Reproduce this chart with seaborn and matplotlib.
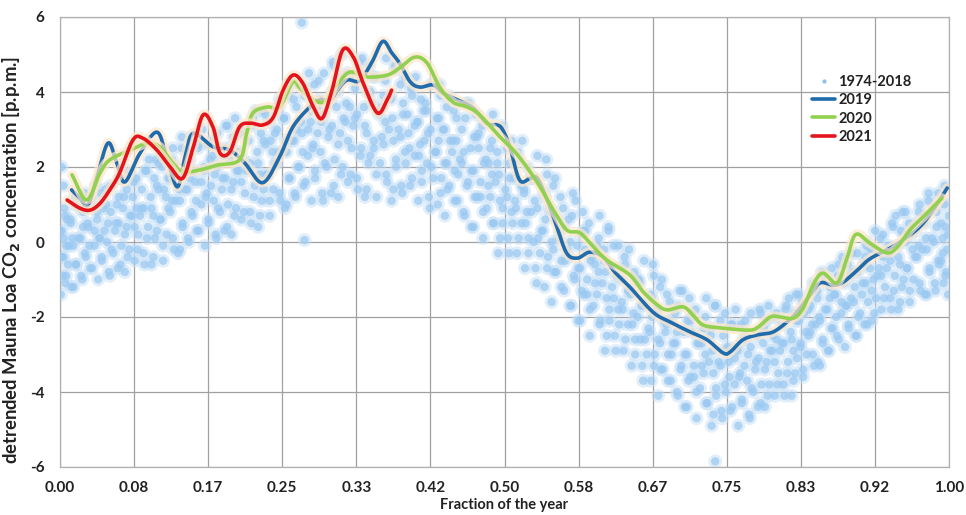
import matplotlib
matplotlib.use("Agg")
import matplotlib.pyplot as plt
import matplotlib.patheffects as pe
from matplotlib.lines import Line2D
import seaborn as sns
import pandas as pd
import numpy as np

# ---------------- data ----------------
xtick_vals = [0, 1/12, 2/12, 3/12, 4/12, 5/12, 6/12, 7/12, 8/12, 9/12, 10/12, 11/12, 1]
xtick_labels = ["0.00", "0.08", "0.17", "0.25", "0.33", "0.42", "0.50",
                "0.58", "0.67", "0.75", "0.83", "0.92", "1.00"]
ytick_vals = [-6, -4, -2, 0, 2, 4, 6]

# 1974-2018 cloud, group A
hist_frac_a = [
    0.001, 0.006, 0.003, 0.009, 0.002, 0.007, 0.004, 0.000, 0.008, 0.005, 0.002, 0.004,
    0.013, 0.024, 0.018, 0.028, 0.015, 0.021, 0.026, 0.012, 0.023, 0.017,
    0.043, 0.034, 0.047, 0.039, 0.045, 0.032, 0.042, 0.049, 0.036, 0.040,
    0.056, 0.068, 0.060, 0.053, 0.062, 0.066, 0.057, 0.064, 0.051, 0.067,
    0.073, 0.084, 0.078, 0.088, 0.075, 0.081, 0.086, 0.072, 0.083, 0.077,
    0.103, 0.094, 0.107, 0.099, 0.105, 0.092, 0.102, 0.109, 0.096, 0.100,
    0.116, 0.128, 0.120, 0.113, 0.122, 0.126, 0.117, 0.124, 0.111, 0.127,
    0.133, 0.144, 0.138, 0.148, 0.135, 0.141, 0.146, 0.132, 0.143, 0.137,
    0.163, 0.154, 0.167, 0.159, 0.165, 0.152, 0.162, 0.169, 0.156, 0.160,
    0.176, 0.188, 0.180, 0.173, 0.182, 0.186, 0.177, 0.184, 0.171, 0.187,
    0.193, 0.204, 0.198, 0.208, 0.195, 0.201, 0.206, 0.192, 0.203, 0.197,
    0.223, 0.214, 0.227, 0.219, 0.225, 0.212, 0.222, 0.229, 0.216, 0.220,
    0.236, 0.248, 0.240, 0.233, 0.242, 0.246, 0.237, 0.244, 0.231, 0.247,
    0.253, 0.264, 0.258, 0.268, 0.255, 0.261, 0.266, 0.252, 0.263, 0.257,
    0.283, 0.274, 0.287, 0.279, 0.285, 0.272, 0.282, 0.289, 0.276, 0.280, 0.272, 0.275,
    0.296, 0.308, 0.300, 0.293, 0.302, 0.306, 0.297, 0.304, 0.291, 0.307,
    0.313, 0.324, 0.318, 0.328, 0.315, 0.321, 0.326, 0.312, 0.323, 0.317,
    0.343, 0.334, 0.347, 0.339, 0.345, 0.332, 0.342, 0.349, 0.336, 0.340,
    0.356, 0.368, 0.360, 0.353, 0.362, 0.366, 0.357, 0.364, 0.351, 0.367,
    0.373, 0.384, 0.378, 0.388, 0.375, 0.381, 0.386, 0.372, 0.383, 0.377,
    0.403, 0.394, 0.407, 0.399, 0.405, 0.392, 0.402, 0.409, 0.396, 0.400,
    0.416, 0.428, 0.420, 0.413, 0.422, 0.426, 0.417, 0.424, 0.411, 0.427,
    0.433, 0.444, 0.438, 0.448, 0.435, 0.441, 0.446, 0.432, 0.443, 0.437,
    0.463, 0.454, 0.467, 0.459, 0.465, 0.452, 0.462, 0.469, 0.456, 0.460,
    0.476, 0.488, 0.480, 0.473, 0.482, 0.486, 0.477, 0.484, 0.471, 0.487,
    0.493, 0.504, 0.498, 0.508, 0.495, 0.501, 0.506, 0.492, 0.503, 0.497,
    0.523, 0.514, 0.527, 0.519, 0.525, 0.512, 0.522, 0.529, 0.516, 0.520,
    0.536, 0.548, 0.540, 0.533, 0.542, 0.546, 0.537, 0.544, 0.531, 0.547,
    0.553, 0.564, 0.558, 0.568, 0.555, 0.561, 0.566, 0.552, 0.563, 0.557,
    0.583, 0.574, 0.587, 0.579, 0.585, 0.572, 0.582, 0.589, 0.576, 0.580,
    0.596, 0.608, 0.600, 0.593, 0.602, 0.606, 0.597, 0.604, 0.591, 0.607,
    0.613, 0.624, 0.618, 0.628, 0.615, 0.621, 0.626, 0.612, 0.623, 0.617,
    0.643, 0.634, 0.647, 0.639, 0.645, 0.632, 0.642, 0.649, 0.636, 0.640,
    0.656, 0.668, 0.660, 0.653, 0.662, 0.666, 0.657, 0.664, 0.651, 0.667,
    0.673, 0.684, 0.678, 0.688, 0.675, 0.681, 0.686, 0.672, 0.683, 0.677,
    0.703, 0.694, 0.707, 0.699, 0.705, 0.692, 0.702, 0.709, 0.696, 0.700,
    0.716, 0.728, 0.720, 0.713, 0.722, 0.726, 0.717, 0.724, 0.711, 0.727,
    0.733, 0.744, 0.738, 0.748, 0.735, 0.741, 0.746, 0.732, 0.743, 0.737, 0.737,
    0.763, 0.754, 0.767, 0.759, 0.765, 0.752, 0.762, 0.769, 0.756, 0.760,
    0.776, 0.788, 0.780, 0.773, 0.782, 0.786, 0.777, 0.784, 0.771, 0.787,
    0.793, 0.804, 0.798, 0.808, 0.795, 0.801, 0.806, 0.792, 0.803, 0.797,
    0.823, 0.814, 0.827, 0.819, 0.825, 0.812, 0.822, 0.829, 0.816, 0.820,
    0.836, 0.848, 0.840, 0.833, 0.842, 0.846, 0.837, 0.844, 0.831, 0.847,
    0.853, 0.864, 0.858, 0.868, 0.855, 0.861, 0.866, 0.852, 0.863, 0.857,
    0.883, 0.874, 0.887, 0.879, 0.885, 0.872, 0.882, 0.889, 0.876, 0.880,
    0.896, 0.908, 0.900, 0.893, 0.902, 0.906, 0.897, 0.904, 0.891, 0.907,
    0.913, 0.924, 0.918, 0.928, 0.915, 0.921, 0.926, 0.912, 0.923, 0.917,
    0.943, 0.934, 0.947, 0.939, 0.945, 0.932, 0.942, 0.949, 0.936, 0.940,
    0.956, 0.968, 0.960, 0.953, 0.962, 0.966, 0.957, 0.964, 0.951, 0.967,
    0.973, 0.984, 0.978, 0.988, 0.975, 0.981, 0.986, 0.972, 0.983, 0.977,
    0.999, 0.994, 0.997, 0.991, 0.998, 0.993, 0.996, 1.000, 0.992, 0.995,
]
hist_ppm_a = [
    -1.4, -1.1, -0.9, -0.6, -0.4, -0.1, 0.1, 0.3, 0.6, 0.9, 2.0, 1.5,
    -1.2, -0.9, -0.6, -0.3, -0.1, 0.1, 0.4, 0.6, 0.9, 1.2,
    -1.0, -0.7, -0.4, -0.1, 0.1, 0.4, 0.6, 0.9, 1.2, 1.5,
    -0.9, -0.6, -0.3, 0.0, 0.3, 0.5, 0.8, 1.0, 1.4, 1.7,
    -0.8, -0.5, -0.2, 0.2, 0.4, 0.7, 0.9, 1.2, 1.6, 1.9,
    -0.6, -0.3, 0.1, 0.4, 0.7, 0.9, 1.2, 1.5, 1.9, 2.2,
    -0.5, -0.2, 0.2, 0.6, 0.9, 1.1, 1.4, 1.7, 2.1, 2.5,
    -0.3, 0.1, 0.4, 0.8, 1.1, 1.4, 1.7, 2.0, 2.4, 2.8,
    -0.1, 0.3, 0.6, 1.0, 1.3, 1.6, 1.9, 2.2, 2.6, 3.0,
    0.1, 0.4, 0.8, 1.1, 1.4, 1.7, 2.0, 2.3, 2.7, 3.1,
    0.2, 0.6, 0.9, 1.3, 1.6, 1.9, 2.2, 2.5, 2.9, 3.3,
    0.4, 0.8, 1.1, 1.5, 1.8, 2.0, 2.4, 2.7, 3.1, 3.5,
    0.7, 1.1, 1.4, 1.8, 2.1, 2.4, 2.7, 3.0, 3.4, 3.8,
    0.9, 1.3, 1.7, 2.0, 2.4, 2.7, 3.0, 3.3, 3.8, 4.2,
    1.1, 1.5, 1.9, 2.3, 2.6, 2.9, 3.2, 3.6, 4.1, 4.5, 5.85, 0.05,
    1.1, 1.5, 2.0, 2.4, 2.8, 3.1, 3.4, 3.8, 4.3, 4.8,
    1.2, 1.6, 2.0, 2.5, 2.9, 3.2, 3.6, 4.0, 4.5, 5.0,
    1.2, 1.7, 2.1, 2.5, 2.9, 3.3, 3.6, 4.0, 4.5, 4.9,
    1.2, 1.6, 2.1, 2.5, 2.8, 3.2, 3.5, 3.9, 4.4, 4.9,
    1.1, 1.5, 2.0, 2.4, 2.7, 3.0, 3.4, 3.8, 4.2, 4.7,
    1.1, 1.5, 1.9, 2.3, 2.6, 2.9, 3.2, 3.5, 3.9, 4.4,
    0.9, 1.3, 1.7, 2.1, 2.4, 2.7, 3.0, 3.3, 3.7, 4.2,
    0.7, 1.1, 1.5, 1.8, 2.1, 2.4, 2.7, 3.0, 3.5, 3.9,
    0.4, 0.8, 1.2, 1.6, 1.9, 2.1, 2.5, 2.8, 3.3, 3.7,
    0.1, 0.5, 0.9, 1.2, 1.5, 1.8, 2.1, 2.5, 2.9, 3.4,
    -0.3, 0.1, 0.5, 0.8, 1.1, 1.4, 1.7, 2.1, 2.5, 3.0,
    -0.7, -0.3, 0.1, 0.5, 0.8, 1.1, 1.4, 1.7, 2.2, 2.7,
    -1.1, -0.7, -0.3, 0.0, 0.3, 0.6, 0.9, 1.3, 1.7, 2.2,
    -1.6, -1.2, -0.8, -0.5, -0.2, 0.1, 0.4, 0.8, 1.2, 1.7,
    -2.1, -1.7, -1.3, -1.0, -0.7, -0.4, -0.1, 0.3, 0.7, 1.1,
    -2.5, -2.1, -1.7, -1.4, -1.1, -0.8, -0.5, -0.1, 0.3, 0.7,
    -2.9, -2.5, -2.1, -1.8, -1.5, -1.2, -0.9, -0.5, -0.1, 0.3,
    -3.3, -2.9, -2.6, -2.2, -1.9, -1.6, -1.3, -1.0, -0.6, -0.2,
    -3.7, -3.3, -3.0, -2.6, -2.3, -2.0, -1.7, -1.4, -1.0, -0.6,
    -4.1, -3.7, -3.4, -3.0, -2.7, -2.4, -2.1, -1.8, -1.4, -1.0,
    -4.4, -4.0, -3.7, -3.3, -3.0, -2.7, -2.4, -2.1, -1.7, -1.3,
    -4.7, -4.3, -3.9, -3.6, -3.3, -3.0, -2.7, -2.3, -1.9, -1.5,
    -4.9, -4.5, -4.1, -3.8, -3.5, -3.2, -2.9, -2.5, -2.1, -1.7, -5.85,
    -4.9, -4.5, -4.2, -3.8, -3.5, -3.2, -2.9, -2.6, -2.2, -1.8,
    -4.7, -4.3, -4.0, -3.7, -3.4, -3.1, -2.8, -2.5, -2.1, -1.8,
    -4.4, -4.1, -3.8, -3.5, -3.2, -2.9, -2.6, -2.3, -2.0, -1.7,
    -4.1, -3.8, -3.5, -3.2, -2.9, -2.7, -2.4, -2.1, -1.8, -1.5,
    -3.6, -3.3, -3.0, -2.7, -2.5, -2.2, -1.9, -1.7, -1.4, -1.1,
    -3.2, -2.9, -2.6, -2.3, -2.1, -1.8, -1.5, -1.3, -1.0, -0.8,
    -2.8, -2.5, -2.2, -1.9, -1.7, -1.4, -1.1, -0.9, -0.6, -0.4,
    -2.5, -2.2, -1.9, -1.6, -1.4, -1.1, -0.8, -0.6, -0.3, -0.1,
    -2.1, -1.8, -1.5, -1.2, -1.0, -0.7, -0.4, -0.2, 0.1, 0.3,
    -1.8, -1.5, -1.2, -0.9, -0.6, -0.3, -0.1, 0.2, 0.5, 0.7,
    -1.6, -1.3, -1.0, -0.7, -0.4, -0.1, 0.2, 0.5, 0.8, 1.0,
    -1.4, -1.1, -0.8, -0.5, -0.2, 0.1, 0.4, 0.7, 1.0, 1.3,
    -1.4, -1.1, -0.8, -0.5, -0.2, 0.1, 0.4, 0.7, 1.1, 1.5,
]

# 1974-2018 cloud, group B (in-between columns)
hist_frac_b = [
    0.015, 0.007, 0.018, 0.004, 0.010, 0.014, 0.002, 0.012, 0.006, 0.017,
    0.025, 0.036, 0.029, 0.033, 0.023, 0.039, 0.031, 0.026, 0.035, 0.028,
    0.055, 0.047, 0.058, 0.044, 0.050, 0.054, 0.042, 0.052, 0.046, 0.057,
    0.065, 0.076, 0.069, 0.073, 0.063, 0.079, 0.071, 0.066, 0.075, 0.068,
    0.095, 0.087, 0.098, 0.084, 0.090, 0.094, 0.082, 0.092, 0.086, 0.097,
    0.105, 0.116, 0.109, 0.113, 0.103, 0.119, 0.111, 0.106, 0.115, 0.108,
    0.135, 0.127, 0.138, 0.124, 0.130, 0.134, 0.122, 0.132, 0.126, 0.137,
    0.145, 0.156, 0.149, 0.153, 0.143, 0.159, 0.151, 0.146, 0.155, 0.148,
    0.175, 0.167, 0.178, 0.164, 0.170, 0.174, 0.162, 0.172, 0.166, 0.177,
    0.185, 0.196, 0.189, 0.193, 0.183, 0.199, 0.191, 0.186, 0.195, 0.188,
    0.215, 0.207, 0.218, 0.204, 0.210, 0.214, 0.202, 0.212, 0.206, 0.217,
    0.225, 0.236, 0.229, 0.233, 0.223, 0.239, 0.231, 0.226, 0.235, 0.228,
    0.255, 0.247, 0.258, 0.244, 0.250, 0.254, 0.242, 0.252, 0.246, 0.257,
    0.265, 0.276, 0.269, 0.273, 0.263, 0.279, 0.271, 0.266, 0.275, 0.268,
    0.295, 0.287, 0.298, 0.284, 0.290, 0.294, 0.282, 0.292, 0.286, 0.297,
    0.305, 0.316, 0.309, 0.313, 0.303, 0.319, 0.311, 0.306, 0.315, 0.308,
    0.335, 0.327, 0.338, 0.324, 0.330, 0.334, 0.322, 0.332, 0.326, 0.337,
    0.345, 0.356, 0.349, 0.353, 0.343, 0.359, 0.351, 0.346, 0.355, 0.348,
    0.375, 0.367, 0.378, 0.364, 0.370, 0.374, 0.362, 0.372, 0.366, 0.377,
    0.385, 0.396, 0.389, 0.393, 0.383, 0.399, 0.391, 0.386, 0.395, 0.388,
    0.415, 0.407, 0.418, 0.404, 0.410, 0.414, 0.402, 0.412, 0.406, 0.417,
    0.425, 0.436, 0.429, 0.433, 0.423, 0.439, 0.431, 0.426, 0.435, 0.428,
    0.455, 0.447, 0.458, 0.444, 0.450, 0.454, 0.442, 0.452, 0.446, 0.457,
    0.465, 0.476, 0.469, 0.473, 0.463, 0.479, 0.471, 0.466, 0.475, 0.468,
    0.495, 0.487, 0.498, 0.484, 0.490, 0.494, 0.482, 0.492, 0.486, 0.497,
    0.505, 0.516, 0.509, 0.513, 0.503, 0.519, 0.511, 0.506, 0.515, 0.508,
    0.535, 0.527, 0.538, 0.524, 0.530, 0.534, 0.522, 0.532, 0.526, 0.537,
    0.545, 0.556, 0.549, 0.553, 0.543, 0.559, 0.551, 0.546, 0.555, 0.548,
    0.575, 0.567, 0.578, 0.564, 0.570, 0.574, 0.562, 0.572, 0.566, 0.577,
    0.585, 0.596, 0.589, 0.593, 0.583, 0.599, 0.591, 0.586, 0.595, 0.588,
    0.615, 0.607, 0.618, 0.604, 0.610, 0.614, 0.602, 0.612, 0.606, 0.617,
    0.625, 0.636, 0.629, 0.633, 0.623, 0.639, 0.631, 0.626, 0.635, 0.628,
    0.655, 0.647, 0.658, 0.644, 0.650, 0.654, 0.642, 0.652, 0.646, 0.657,
    0.665, 0.676, 0.669, 0.673, 0.663, 0.679, 0.671, 0.666, 0.675, 0.668,
    0.695, 0.687, 0.698, 0.684, 0.690, 0.694, 0.682, 0.692, 0.686, 0.697,
    0.705, 0.716, 0.709, 0.713, 0.703, 0.719, 0.711, 0.706, 0.715, 0.708,
    0.735, 0.727, 0.738, 0.724, 0.730, 0.734, 0.722, 0.732, 0.726, 0.737,
    0.745, 0.756, 0.749, 0.753, 0.743, 0.759, 0.751, 0.746, 0.755, 0.748,
    0.775, 0.767, 0.778, 0.764, 0.770, 0.774, 0.762, 0.772, 0.766, 0.777,
    0.785, 0.796, 0.789, 0.793, 0.783, 0.799, 0.791, 0.786, 0.795, 0.788,
    0.815, 0.807, 0.818, 0.804, 0.810, 0.814, 0.802, 0.812, 0.806, 0.817,
    0.825, 0.836, 0.829, 0.833, 0.823, 0.839, 0.831, 0.826, 0.835, 0.828,
    0.855, 0.847, 0.858, 0.844, 0.850, 0.854, 0.842, 0.852, 0.846, 0.857,
    0.865, 0.876, 0.869, 0.873, 0.863, 0.879, 0.871, 0.866, 0.875, 0.868,
    0.895, 0.887, 0.898, 0.884, 0.890, 0.894, 0.882, 0.892, 0.886, 0.897,
    0.905, 0.916, 0.909, 0.913, 0.903, 0.919, 0.911, 0.906, 0.915, 0.908,
    0.935, 0.927, 0.938, 0.924, 0.930, 0.934, 0.922, 0.932, 0.926, 0.937,
    0.945, 0.956, 0.949, 0.953, 0.943, 0.959, 0.951, 0.946, 0.955, 0.948,
    0.975, 0.967, 0.978, 0.964, 0.970, 0.974, 0.962, 0.972, 0.966, 0.977,
    0.985, 0.996, 0.989, 0.993, 0.983, 0.999, 0.991, 0.986, 0.995, 0.988,
]
hist_ppm_b = [
    -1.2, -0.9, -0.6, -0.4, -0.1, 0.1, 0.3, 0.5, 0.7, 1.0,
    -1.0, -0.7, -0.4, -0.1, 0.1, 0.3, 0.5, 0.8, 1.0, 1.3,
    -0.8, -0.5, -0.2, 0.1, 0.3, 0.5, 0.8, 1.0, 1.3, 1.5,
    -0.7, -0.4, -0.1, 0.2, 0.5, 0.7, 0.9, 1.2, 1.4, 1.7,
    -0.6, -0.2, 0.1, 0.4, 0.7, 0.9, 1.2, 1.4, 1.7, 1.9,
    -0.4, -0.1, 0.3, 0.6, 0.9, 1.2, 1.4, 1.7, 2.0, 2.2,
    -0.2, 0.1, 0.5, 0.8, 1.1, 1.4, 1.7, 1.9, 2.2, 2.5,
    0.0, 0.3, 0.7, 1.1, 1.4, 1.6, 1.9, 2.2, 2.5, 2.8,
    0.2, 0.5, 0.9, 1.2, 1.5, 1.8, 2.0, 2.3, 2.6, 2.9,
    0.3, 0.7, 1.0, 1.4, 1.7, 1.9, 2.2, 2.5, 2.8, 3.1,
    0.5, 0.8, 1.2, 1.6, 1.9, 2.1, 2.4, 2.7, 3.0, 3.3,
    0.7, 1.1, 1.4, 1.8, 2.1, 2.4, 2.6, 2.9, 3.2, 3.5,
    1.0, 1.3, 1.7, 2.1, 2.4, 2.7, 2.9, 3.3, 3.6, 3.9,
    1.2, 1.6, 2.0, 2.4, 2.7, 3.0, 3.2, 3.6, 3.9, 4.2,
    1.3, 1.7, 2.1, 2.5, 2.9, 3.2, 3.5, 3.8, 4.2, 4.5,
    1.3, 1.8, 2.2, 2.6, 3.0, 3.3, 3.6, 4.0, 4.4, 4.7,
    1.4, 1.8, 2.3, 2.7, 3.1, 3.4, 3.7, 4.1, 4.4, 4.8,
    1.4, 1.8, 2.3, 2.7, 3.1, 3.4, 3.7, 4.0, 4.4, 4.7,
    1.4, 1.8, 2.2, 2.6, 3.0, 3.3, 3.6, 3.9, 4.3, 4.6,
    1.3, 1.7, 2.1, 2.5, 2.8, 3.1, 3.4, 3.7, 4.1, 4.4,
    1.2, 1.6, 2.0, 2.3, 2.7, 2.9, 3.2, 3.5, 3.8, 4.2,
    1.0, 1.4, 1.7, 2.1, 2.4, 2.7, 3.0, 3.3, 3.6, 3.9,
    0.7, 1.1, 1.5, 1.9, 2.2, 2.4, 2.7, 3.0, 3.3, 3.7,
    0.4, 0.8, 1.2, 1.6, 1.9, 2.2, 2.5, 2.8, 3.1, 3.4,
    0.1, 0.5, 0.9, 1.2, 1.6, 1.8, 2.1, 2.4, 2.7, 3.1,
    -0.3, 0.1, 0.5, 0.9, 1.2, 1.5, 1.7, 2.1, 2.4, 2.7,
    -0.7, -0.3, 0.1, 0.5, 0.8, 1.1, 1.3, 1.7, 2.0, 2.3,
    -1.2, -0.8, -0.4, 0.0, 0.3, 0.6, 0.9, 1.2, 1.5, 1.8,
    -1.7, -1.3, -0.9, -0.5, -0.2, 0.0, 0.3, 0.6, 0.9, 1.3,
    -2.1, -1.8, -1.4, -1.0, -0.7, -0.4, -0.2, 0.2, 0.5, 0.8,
    -2.5, -2.2, -1.8, -1.4, -1.1, -0.8, -0.6, -0.2, 0.1, 0.4,
    -2.9, -2.6, -2.2, -1.8, -1.5, -1.3, -1.0, -0.7, -0.4, -0.1,
    -3.3, -3.0, -2.6, -2.2, -2.0, -1.7, -1.4, -1.1, -0.8, -0.5,
    -3.7, -3.4, -3.0, -2.6, -2.4, -2.1, -1.8, -1.5, -1.2, -0.9,
    -4.1, -3.7, -3.4, -3.0, -2.7, -2.4, -2.2, -1.9, -1.6, -1.3,
    -4.4, -4.0, -3.6, -3.3, -3.0, -2.7, -2.4, -2.1, -1.8, -1.5,
    -4.6, -4.3, -3.9, -3.5, -3.2, -2.9, -2.7, -2.3, -2.0, -1.7,
    -4.7, -4.4, -4.0, -3.6, -3.3, -3.1, -2.8, -2.5, -2.2, -1.9,
    -4.6, -4.3, -3.9, -3.6, -3.3, -3.0, -2.8, -2.5, -2.2, -1.9,
    -4.4, -4.1, -3.8, -3.4, -3.2, -2.9, -2.7, -2.4, -2.1, -1.9,
    -4.1, -3.8, -3.5, -3.2, -2.9, -2.7, -2.5, -2.2, -1.9, -1.7,
    -3.7, -3.4, -3.1, -2.8, -2.6, -2.4, -2.1, -1.9, -1.6, -1.4,
    -3.3, -3.0, -2.7, -2.4, -2.2, -2.0, -1.8, -1.5, -1.3, -1.0,
    -2.9, -2.6, -2.3, -2.0, -1.8, -1.6, -1.4, -1.2, -0.9, -0.7,
    -2.5, -2.3, -2.0, -1.7, -1.5, -1.2, -1.0, -0.8, -0.6, -0.3,
    -2.2, -1.9, -1.6, -1.3, -1.1, -0.9, -0.7, -0.4, -0.2, 0.0,
    -1.8, -1.5, -1.3, -0.9, -0.7, -0.5, -0.3, -0.1, 0.2, 0.4,
    -1.6, -1.3, -1.0, -0.7, -0.4, -0.2, 0.0, 0.3, 0.5, 0.8,
    -1.4, -1.1, -0.7, -0.4, -0.2, 0.1, 0.3, 0.5, 0.8, 1.1,
    -1.3, -0.9, -0.6, -0.3, 0.0, 0.2, 0.5, 0.8, 1.0, 1.3,
]

frac_2019 = [0.013, 0.0225, 0.0315, 0.0416, 0.054, 0.064, 0.073, 0.090, 0.109, 0.120,
             0.132, 0.141, 0.150, 0.172, 0.191, 0.208, 0.228, 0.247, 0.262, 0.281,
             0.292, 0.304, 0.312, 0.323, 0.337, 0.351, 0.363, 0.373, 0.382, 0.394,
             0.405, 0.420, 0.431, 0.447, 0.465, 0.480, 0.492, 0.498, 0.506, 0.517,
             0.529, 0.537, 0.548, 0.559, 0.570, 0.582, 0.596, 0.611, 0.624, 0.641,
             0.667, 0.686, 0.709, 0.728, 0.746, 0.754, 0.768, 0.784, 0.802, 0.818,
             0.829, 0.844, 0.855, 0.870, 0.881, 0.897, 0.911, 0.934, 0.948, 0.967,
             0.982, 0.998]
ppm_2019 = [1.39, 1.17, 0.99, 1.73, 2.64, 2.10, 1.60, 2.37, 2.93, 2.27,
            1.47, 2.30, 2.90, 2.54, 2.45, 2.10, 1.58, 2.27, 3.07, 3.60,
            3.79, 3.79, 4.05, 4.32, 4.30, 4.80, 5.35, 5.05, 4.77, 4.27,
            4.13, 4.19, 3.97, 3.79, 3.57, 3.17, 3.12, 2.99, 2.54, 1.65,
            1.70, 1.70, 1.12, 0.40, -0.30, -0.43, -0.27, -0.40, -0.80, -1.20,
            -1.87, -2.13, -2.40, -2.61, -2.96, -2.93, -2.61, -2.48, -2.40, -2.13,
            -1.87, -1.41, -1.09, -1.15, -1.07, -0.75, -0.45, -0.16, 0.05, 0.40,
            0.85, 1.44]

frac_2020 = [0.0135, 0.030, 0.045, 0.056, 0.079, 0.098, 0.112, 0.127, 0.138, 0.157,
             0.177, 0.202, 0.210, 0.217, 0.233, 0.247, 0.262, 0.270, 0.285, 0.298,
             0.312, 0.326, 0.345, 0.368, 0.382, 0.399, 0.413, 0.427, 0.442, 0.458,
             0.472, 0.495, 0.510, 0.525, 0.540, 0.555, 0.570, 0.585, 0.600, 0.615,
             0.641, 0.656, 0.672, 0.683, 0.701, 0.712, 0.723, 0.742, 0.773, 0.784,
             0.799, 0.810, 0.825, 0.836, 0.847, 0.858, 0.874, 0.885, 0.895, 0.911,
             0.930, 0.942, 0.956, 0.971, 0.992]
ppm_2020 = [1.79, 1.12, 1.84, 2.19, 2.45, 2.63, 2.54, 2.10, 1.87, 1.92,
            2.05, 2.19, 2.90, 3.44, 3.60, 3.60, 4.27, 4.10, 3.79, 3.75,
            4.20, 4.53, 4.40, 4.45, 4.64, 4.93, 4.77, 4.13, 3.73, 3.60,
            3.39, 2.80, 2.45, 2.00, 1.47, 0.85, 0.32, 0.24, -0.13, -0.48,
            -0.88, -1.33, -1.68, -1.81, -1.73, -1.95, -2.21, -2.29, -2.35, -2.29,
            -2.00, -2.00, -2.03, -1.76, -1.15, -0.83, -1.09, -0.45, 0.20, -0.03,
            -0.29, -0.13, 0.32, 0.67, 1.17]

frac_2021 = [0.008, 0.0225, 0.034, 0.045, 0.056, 0.067, 0.082, 0.093, 0.109, 0.124,
             0.138, 0.150, 0.161, 0.172, 0.180, 0.191, 0.202, 0.214, 0.228, 0.240,
             0.251, 0.262, 0.273, 0.285, 0.295, 0.306, 0.318, 0.330, 0.341, 0.357,
             0.368, 0.373]
ppm_2021 = [1.12, 0.90, 0.85, 1.03, 1.39, 1.84, 2.72, 2.77, 2.45, 2.00,
            1.70, 2.54, 3.39, 3.07, 2.37, 2.40, 3.07, 3.17, 3.12, 3.33,
            4.05, 4.45, 4.24, 3.60, 3.30, 4.05, 5.12, 4.93, 4.24, 3.44,
            3.79, 4.05]

series_names = ["2019", "2020", "2021"]
series_colors = ["#1f6bab", "#92d050", "#e3141b"]


def smooth_curve(xs, ys, steps=10):
    """Catmull-Rom rendering of a line through the given points (like a smoothed Excel line)."""
    x = np.asarray(xs, float)
    y = np.asarray(ys, float)
    px = np.concatenate([[2 * x[0] - x[1]], x, [2 * x[-1] - x[-2]]])
    py = np.concatenate([[2 * y[0] - y[1]], y, [2 * y[-1] - y[-2]]])
    out_x, out_y = [], []
    t = np.linspace(0, 1, steps, endpoint=False)
    for i in range(1, len(px) - 2):
        for arr, o in ((px, out_x), (py, out_y)):
            p0, p1, p2, p3 = arr[i - 1], arr[i], arr[i + 1], arr[i + 2]
            o.extend(0.5 * (2 * p1 + (-p0 + p2) * t + (2 * p0 - 5 * p1 + 4 * p2 - p3) * t ** 2
                            + (-p0 + 3 * p1 - 3 * p2 + p3) * t ** 3))
    out_x.append(x[-1])
    out_y.append(y[-1])
    return out_x, out_y


# ---------------- figure ----------------
sns.set_theme(style="white")
plt.rcParams["font.family"] = ["Lato", "DejaVu Sans"]
plt.rcParams["mathtext.default"] = "bf"

fig = plt.figure(figsize=(9.66, 5.15), dpi=100)
ax = fig.add_axes([60 / 966, 1 - 467 / 515, 889 / 966, 450 / 515])

hist_df = pd.DataFrame({"frac": hist_frac_a + hist_frac_b, "ppm": hist_ppm_a + hist_ppm_b})
sns.scatterplot(data=hist_df, x="frac", y="ppm", ax=ax, s=100, color="#c6e0f8",
                alpha=0.5, edgecolor="none", linewidth=0, legend=False, zorder=2)
sns.scatterplot(data=hist_df, x="frac", y="ppm", ax=ax, s=36, color="#99c8f1",
                alpha=0.7, edgecolor="none", linewidth=0, legend=False, zorder=3)

glow = [pe.Stroke(linewidth=7, foreground="#fde7cc", alpha=0.7), pe.Normal()]
for name, fr, vals, col in zip(series_names, [frac_2019, frac_2020, frac_2021],
                               [ppm_2019, ppm_2020, ppm_2021], series_colors):
    sx, sy = smooth_curve(fr, vals)
    df = pd.DataFrame({"frac": sx, "ppm": sy})
    sns.lineplot(data=df, x="frac", y="ppm", ax=ax, color=col, linewidth=2.6,
                 sort=False, estimator=None, zorder=5, path_effects=glow, legend=False)

ax.set_xlim(0, 1)
ax.set_ylim(-6, 6)
ax.set_xticks(xtick_vals)
ax.set_xticklabels(xtick_labels)
ax.set_yticks(ytick_vals)
ax.set_yticklabels([str(v) for v in ytick_vals])
ax.tick_params(axis="both", length=0, labelsize=11, colors="#222222")
ax.tick_params(axis="x", pad=10)
ax.tick_params(axis="y", pad=11)
for lab in ax.get_xticklabels() + ax.get_yticklabels():
    lab.set_fontweight("bold")

ax.grid(True, color="#a0a0a0", linewidth=0.9)
ax.set_axisbelow(True)
for sp in ax.spines.values():
    sp.set_color("#b0b0b0")
    sp.set_linewidth(0.9)

ax.set_xlabel("Fraction of the year", fontsize=10.5, fontweight="bold", color="#222222")
ax.xaxis.set_label_coords(0.5, (467 - 498) / 450)
ax.set_ylabel(r"detrended Mauna Loa CO$_{2}$ concentration [p.p.m.]",
              fontsize=13.3, fontweight="bold", color="#222222")
ax.yaxis.set_label_coords((22 - 60) / 889, (467 - 260) / 450)

handles = [Line2D([], [], marker="o", linestyle="none", markersize=3,
                  markerfacecolor="#8cbfee", markeredgecolor="none")]
handles += [Line2D([], [], color=c, linewidth=2.6) for c in series_colors]
labels = ["1974-2018"] + series_names
leg = ax.legend(handles, labels, loc="upper left", bbox_to_anchor=((806 - 60) / 889, (467 - 69) / 450),
                frameon=False, fontsize=10.5, handlelength=1.6, handletextpad=0.2,
                labelspacing=0.3, borderaxespad=0)
for t in leg.get_texts():
    t.set_fontweight("bold")
    t.set_color("#222222")

fig.savefig("out.png", dpi=100, facecolor="white")
